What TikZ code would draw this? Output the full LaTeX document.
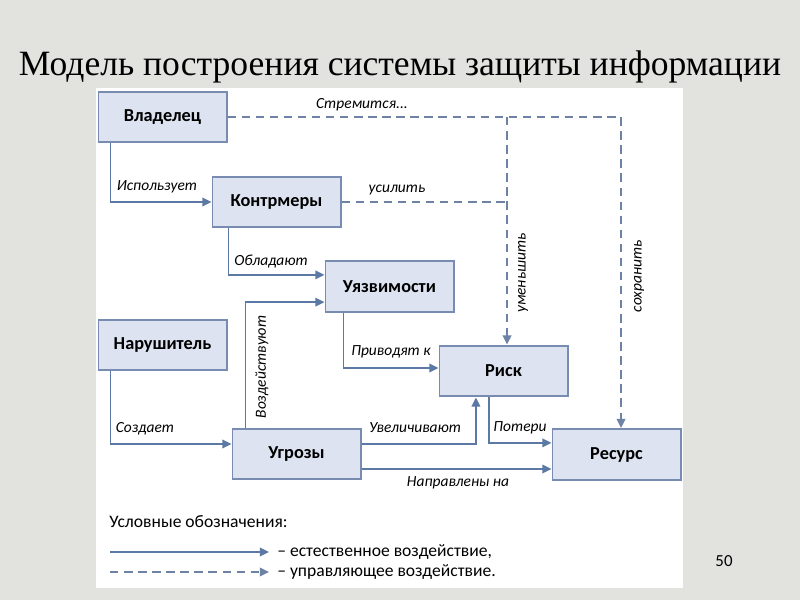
\documentclass[tikz,border=0pt]{standalone}
\usepackage{fontspec}
\setmainfont{Liberation Serif}
\setsansfont{Carlito}
\usetikzlibrary{positioning, arrows.meta}
\definecolor{boxfill}{RGB}{221,227,240}
\definecolor{boxdraw}{RGB}{120,140,178}
\definecolor{linecol}{RGB}{92,120,165}
\definecolor{ctrlcol}{RGB}{110,130,165}
\definecolor{slidebg}{RGB}{226,226,223}
\tikzset{
    boxnode/.style={
        rectangle,
        draw=boxdraw,
        fill=boxfill,
        line width=1.4pt, % рамка блока
        minimum width=3.2cm,
        minimum height=1.27cm,
        inner sep=0,
        font=\sffamily\bfseries\fontsize{13}{15}\selectfont
    },
    labelnode/.style={
        inner sep=0,
        font=\sffamily\itshape\fontsize{11}{13}\selectfont
    },
    legendnode/.style={
        inner sep=0,
        anchor=west,
        font=\sffamily\fontsize{12.5}{14}\selectfont
    },
    natline/.style={
        draw=linecol,
        line width=1.4pt,
        -{Triangle[length=6.5pt,width=6pt]}
    },
    ctrlline/.style={
        natline,
        draw=ctrlcol,
        dash pattern=on 6pt off 4pt % штриховая линия
    }
}

\begin{document}
\begin{tikzpicture}[x=0.025cm, y=-0.025cm]
    % фон слайда
    \fill[slidebg] (0,0) rectangle (800,600);
    \useasboundingbox (0,0) rectangle (800,600);
    \fill[white] (96,88) rectangle (683,588);

    \node[anchor=base] (title) at (400,75)
        {\fontsize{25.3}{30}\selectfont Модель построения системы защиты информации};

    % блоки
    \node[boxnode] (vlad)   at (162.5,117) {Владелец};
    \node[boxnode] (kontr)  at (276.5,202) {Контрмеры};
    \node[boxnode] (uyaz)   at (389.5,286.5) {Уязвимости};
    \node[boxnode] (narush) at (162.5,345) {Нарушитель};
    \node[boxnode] (risk)   at (503.5,371) {Риск};
    \node[boxnode] (ugroz)  at (296.5,454) {Угрозы};
    \node[boxnode] (resurs) at (616.5,454.5) {Ресурс};

    % естественное воздействие
    \draw[natline] ([xshift=0.325cm]vlad.south west) |- (kontr.west);
    \draw[natline] ([xshift=0.425cm]kontr.south west) |- ([yshift=0.29cm]uyaz.west);
    \draw[natline] ([xshift=0.35cm]ugroz.north west) |- ([yshift=-0.39cm]uyaz.west);
    \draw[natline] ([xshift=0.475cm]uyaz.south west) |- ([yshift=0.075cm]risk.west);
    \draw[natline] ([xshift=0.325cm]narush.south west) |- ([yshift=0.25cm]ugroz.west);
    \draw[natline] ([yshift=0.25cm]ugroz.east) -| ([xshift=-0.69cm]risk.south);
    \draw[natline] ([xshift=-0.36cm]risk.south) |- ([yshift=0.29cm]resurs.west);
    \draw[natline] ([yshift=-0.375cm]ugroz.east) -- ([yshift=-0.375cm]ugroz.east -| resurs.west);

    % управляющее воздействие
    \coordinate (jr) at (507,117);
    \coordinate (js) at (621,117);
    \draw[ctrlline] (vlad.east) -- (js) -- (js |- resurs.north);
    \draw[ctrlline] (jr) -- (jr |- risk.north);
    \draw[ctrlline, -] (kontr.east) -- (jr |- kontr.east);

    % подписи
    \node[labelnode] (lstrem) at (362,105) {Стремится...};
    \node[labelnode] (lisp)   at (157,187) {Использует};
    \node[labelnode] (lusil)  at (397,190) {усилить};
    \node[labelnode] (lobl)   at (271,262) {Обладают};
    \node[labelnode, rotate=90] (lvozd) at (262,367) {Воздействуют};
    \node[labelnode] (lpriv)  at (391,352) {Приводят к};
    \node[labelnode, rotate=90] (lumen) at (523,273) {уменьшить};
    \node[labelnode, rotate=90] (lsohr) at (639,276) {сохранить};
    \node[labelnode] (lsozd)  at (145,429) {Создает};
    \node[labelnode] (luvel)  at (415,428) {Увеличивают};
    \node[labelnode] (lpot)   at (520,428) {Потери};
    \node[labelnode] (lnapr)  at (458,483) {Направлены на};

    % условные обозначения
    \node[legendnode] (legtitle) at (109,522) {Условные обозначения:};
    \coordinate (leg1a) at (110,552);
    \coordinate (leg2a) at (110,572);
    \node[legendnode] (leg1) at (277,552) {-- естественное воздействие,};
    \node[legendnode] (leg2) at (277,572) {-- управляющее воздействие.};
    \draw[natline] (leg1a) -- ([xshift=-0.2cm]leg1.west);
    \draw[ctrlline] (leg2a) -- ([xshift=-0.2cm]leg2.west);

    \node[font=\sffamily\fontsize{12}{14}\selectfont] (pnum) at (724,561) {50};
\end{tikzpicture}
\end{document}
